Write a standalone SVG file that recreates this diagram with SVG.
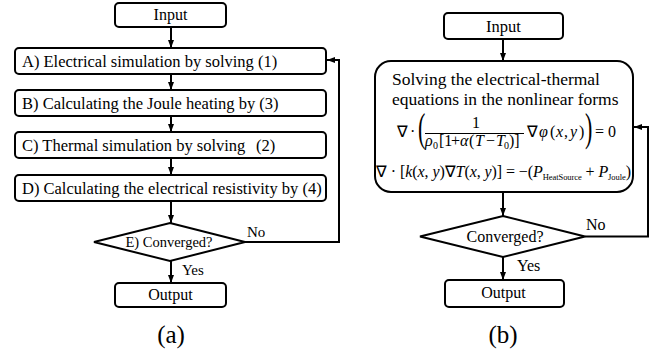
<svg xmlns="http://www.w3.org/2000/svg" width="666" height="349" viewBox="0 0 666 349" font-family="'Liberation Serif', serif">
<defs>
<style>
.box{fill:#fff;stroke:#000;stroke-width:2}
.ln{fill:none;stroke:#000;stroke-width:2}
.t{font-size:16.5px}
.c{text-anchor:middle}
.i{font-style:italic}
.eq{font-size:16px}
</style>
<marker id="ah" markerWidth="8" markerHeight="6" refX="8" refY="3" orient="auto" markerUnits="userSpaceOnUse">
<path d="M0,0 L8,3 L0,6 Z" fill="#000"/>
</marker>
</defs>
<rect width="666" height="349" fill="#fff"/>

<g id="connectors">
<line class="ln" x1="171" y1="27" x2="171" y2="48" marker-end="url(#ah)"/>
<line class="ln" x1="171" y1="74" x2="171" y2="90" marker-end="url(#ah)"/>
<line class="ln" x1="171" y1="116" x2="171" y2="132" marker-end="url(#ah)"/>
<line class="ln" x1="171" y1="158" x2="171" y2="175" marker-end="url(#ah)"/>
<line class="ln" x1="171" y1="201" x2="171" y2="223" marker-end="url(#ah)"/>
<line class="ln" x1="171" y1="261" x2="171" y2="283" marker-end="url(#ah)"/>
<polyline class="ln" points="245,242 339,242 339,60 327,60" marker-end="url(#ah)"/>
<line class="ln" x1="503" y1="39" x2="503" y2="61" marker-end="url(#ah)"/>
<line class="ln" x1="503" y1="192" x2="503" y2="216" marker-end="url(#ah)"/>
<line class="ln" x1="503" y1="257" x2="503" y2="280" marker-end="url(#ah)"/>
<polyline class="ln" points="585,236.5 648,236.5 648,127 634,127" marker-end="url(#ah)"/>
<text x="247" y="237" font-size="15">No</text>
<text x="182" y="275" font-size="15">Yes</text>
<text x="586" y="230" font-size="16">No</text>
<text x="517" y="271" font-size="16">Yes</text>
</g>

<g id="a-input">
<rect class="box" x="115" y="3" width="111" height="24" rx="4"/>
<text class="c" x="170.5" y="20" font-size="16">Input</text>
</g>
<g id="a-A">
<rect class="box" x="15" y="48" width="311" height="26" rx="4"/>
<text class="t" x="22" y="67">A) Electrical simulation by solving (1)</text>
</g>
<g id="a-B">
<rect class="box" x="15" y="90" width="311" height="26" rx="4"/>
<text class="t" x="22" y="109">B) Calculating the Joule heating by (3)</text>
</g>
<g id="a-C">
<rect class="box" x="15" y="132" width="311" height="26" rx="4"/>
<text class="t" x="22" y="151">C) Thermal simulation by solving<tspan x="256">(2)</tspan></text>
</g>
<g id="a-D">
<rect class="box" x="15" y="175" width="311" height="26" rx="4"/>
<text class="t" x="22" y="194">D) Calculating the electrical resistivity by (4)</text>
</g>
<g id="a-E">
<polygon class="box" points="170,223 245,242 170,261 94,242"/>
<text class="c" x="169" y="247" font-size="14.5">E) Converged?</text>
</g>
<g id="a-output">
<rect class="box" x="115" y="283" width="111" height="24" rx="4"/>
<text class="c" x="170.5" y="300" font-size="16">Output</text>
</g>
<text class="c" x="171" y="343" font-size="25">(a)</text>

<g id="b-input">
<rect class="box" x="444" y="13" width="119" height="26" rx="4"/>
<text class="c" x="503.5" y="32" font-size="16.5">Input</text>
</g>
<g id="b-solve">
<rect class="box" x="375" y="61" width="258" height="131" rx="16"/>
<text x="392" y="85" font-size="17.5">Solving the electrical-thermal</text>
<text x="392" y="105" font-size="17.5">equations in the nonlinear forms</text>
<text class="eq" y="137"><tspan x="397">∇</tspan><tspan x="410">·</tspan></text>
<text transform="translate(418,141) scale(0.55,1)" font-size="40">(</text>
<text class="c" x="476" y="128" font-size="16">1</text>
<line x1="425" y1="133.5" x2="524" y2="133.5" stroke="#000" stroke-width="1"/>
<text y="146" font-size="16"><tspan class="i" x="425">ρ</tspan><tspan x="433" y="149" font-size="10">0</tspan><tspan x="439" y="146">[1</tspan><tspan x="451">+</tspan><tspan class="i" x="460">α</tspan><tspan x="469">(</tspan><tspan class="i" x="475">T</tspan><tspan x="486">−</tspan><tspan class="i" x="496">T</tspan><tspan x="504" y="149" font-size="10">0</tspan><tspan x="509" y="146">)]</tspan></text>
<text class="eq" y="137"><tspan x="527">∇</tspan><tspan class="i" x="539">φ</tspan><tspan x="550">(</tspan><tspan class="i" x="556">x</tspan><tspan x="564">,</tspan><tspan class="i" x="570">y</tspan><tspan x="579">)</tspan></text>
<text transform="translate(585,141) scale(0.55,1)" font-size="40">)</text>
<text class="eq" x="595" y="137">= 0</text>
<text class="eq" x="376" y="177" textLength="255" lengthAdjust="spacing">∇ · [<tspan class="i">k</tspan>(<tspan class="i">x</tspan>, <tspan class="i">y</tspan>)∇<tspan class="i">T</tspan>(<tspan class="i">x</tspan>, <tspan class="i">y</tspan>)] = −(<tspan class="i">P</tspan><tspan dy="3" font-size="8.5">HeatSource</tspan><tspan dy="-3"> + </tspan><tspan class="i">P</tspan><tspan dy="3" font-size="8.5">Joule</tspan><tspan dy="-3">)</tspan></text>
</g>
<g id="b-conv">
<polygon class="box" points="503,216 585,236.5 503,257 420,236.5"/>
<text class="c" x="505" y="242" font-size="16">Converged?</text>
</g>
<g id="b-output">
<rect class="box" x="445" y="280" width="119" height="27" rx="4"/>
<text class="c" x="503.5" y="298" font-size="16">Output</text>
</g>
<text class="c" x="503" y="343" font-size="25">(b)</text>
</svg>
